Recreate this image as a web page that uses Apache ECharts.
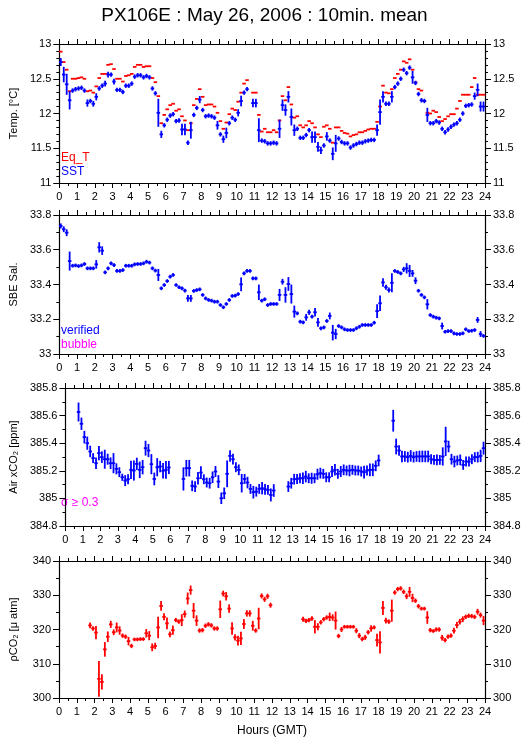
<!DOCTYPE html>
<html>
<head>
<meta charset="utf-8">
<title>PX106E 10min mean</title>
<script src="https://cdn.jsdelivr.net/npm/echarts@6/dist/echarts.min.js"></script>
<style>
  html, body { margin: 0; padding: 0; background: #fff; }
  #chart { width: 529px; height: 739px; }
</style>
</head>
<body>
<div id="chart"></div>
<script>
// 10-minute means, slot i is centred on (i + 0.5) / 6 hours GMT
var hourTicks = ['0','1','2','3','4','5','6','7','8','9','10','11','12','13','14','15','16','17','18','19','20','21','22','23','24'];

var eqT = [
  12.89,12.74,12.63,12.32,12.50,12.50,12.51,12.52,12.50,12.32,12.33,12.30,
  12.39,12.51,12.57,12.57,12.70,12.71,12.64,12.50,12.50,12.46,12.54,12.55,
  12.57,12.67,12.70,12.70,12.67,12.68,12.68,12.51,12.45,12.25,11.86,11.98,
  12.06,12.12,12.14,12.04,12.06,11.96,11.90,11.76,11.86,12.12,12.21,12.35,
  12.24,12.12,12.13,12.13,12.10,12.01,11.89,11.78,11.87,11.99,12.07,12.05,
  12.17,12.30,12.43,12.48,null,12.30,12.30,11.98,11.74,11.78,11.73,11.73,
  11.76,11.73,11.90,12.25,12.19,12.38,12.13,11.94,11.96,11.83,11.80,11.83,
  11.89,11.86,11.80,11.70,11.66,11.81,11.83,11.78,11.58,11.80,11.80,11.75,
  11.72,11.71,11.67,11.69,11.70,11.73,11.73,11.75,11.77,11.78,11.78,11.88,
  12.10,12.40,12.30,12.29,12.35,12.51,12.57,12.63,12.75,12.73,12.78,12.63,
  12.45,12.35,12.33,12.18,12.01,12.00,12.04,12.02,11.95,11.89,11.92,11.96,
  11.99,11.99,12.07,12.18,12.27,12.27,12.27,12.38,12.51,12.27,12.27,12.27
];

var sst = [
  12.74,12.56,12.42,12.19,12.33,12.35,12.36,12.37,12.33,12.15,12.18,12.14,
  12.24,12.36,12.40,12.43,12.56,12.56,12.46,12.34,12.34,12.31,12.40,12.40,
  12.43,12.53,12.55,12.55,12.52,12.54,12.52,12.36,12.29,12.01,11.70,11.83,
  11.91,11.97,11.99,11.89,11.90,11.77,11.77,11.58,11.76,11.98,12.08,12.20,
  12.05,11.96,11.97,11.96,11.94,11.83,11.70,11.63,11.72,11.86,11.94,11.91,
  12.01,12.18,12.30,12.35,null,12.15,12.15,11.76,11.61,11.60,11.57,11.57,
  11.58,11.57,11.78,12.12,12.05,12.24,11.95,11.76,11.78,11.65,11.65,11.69,
  11.76,11.66,11.66,11.52,11.47,11.54,11.67,11.61,11.42,11.57,11.64,11.59,
  11.57,11.57,11.51,11.54,11.56,11.58,11.58,11.60,11.61,11.62,11.62,11.76,
  12.02,12.24,12.14,12.14,12.24,12.38,12.43,12.50,12.63,12.58,12.66,12.52,
  12.44,12.28,12.19,12.18,11.98,11.86,11.86,11.89,11.87,11.78,11.73,11.77,
  11.81,11.84,11.86,11.91,12.00,12.11,12.12,12.13,12.25,12.34,12.10,12.10
];
var sstErr = [
  .045,.10,.14,.12,.02,.02,.02,.02,.02,.04,.02,.03,
  .04,.02,.02,.03,.03,.02,.03,.02,.02,.02,.02,.02,
  .02,.02,.02,.02,.02,.02,.02,.02,.02,.19,.04,.02,
  .02,.02,.02,.02,.02,.07,.07,.02,.11,.02,.02,.04,
  .02,.02,.02,.02,.02,.05,.02,.04,.065,.02,.02,.02,
  .04,.065,.02,.02,.02,.05,.05,.16,.02,.02,.02,.02,
  .02,.02,.12,.07,.07,.07,.11,.07,.02,.02,.02,.02,
  .02,.07,.07,.06,.04,.02,.05,.02,.08,.11,.02,.02,
  .02,.02,.02,.02,.02,.02,.02,.02,.02,.02,.02,.07,
  .17,.07,.02,.02,.07,.02,.02,.02,.02,.02,.02,.08,
  .02,.02,.02,.02,.09,.02,.02,.02,.02,.02,.02,.02,
  .02,.02,.02,.02,.02,.02,.02,.02,.04,.08,.06,.06
];

var sal = [
  33.737,33.718,33.698,33.535,33.508,33.510,33.506,33.510,33.518,33.493,33.493,33.493,
  33.516,33.614,33.595,33.470,33.493,33.522,33.512,33.478,33.478,33.483,33.508,33.508,
  33.508,33.516,33.518,33.518,33.522,33.531,33.526,33.493,33.480,33.455,33.378,33.397,
  33.420,33.445,33.455,33.397,33.384,33.378,33.365,33.320,33.320,33.363,33.368,33.372,
  33.340,33.320,33.311,33.307,33.301,33.301,33.282,33.269,33.288,33.311,33.334,33.336,
  33.345,33.401,33.464,33.478,33.478,33.435,33.435,33.355,33.307,33.315,33.282,33.288,
  33.288,33.288,33.340,33.416,33.340,33.403,33.345,33.244,33.234,33.186,33.182,33.211,
  33.240,33.215,33.240,33.182,33.148,33.153,33.190,33.219,33.123,33.115,33.161,33.153,
  33.142,33.138,33.138,33.138,33.148,33.157,33.167,33.167,33.167,33.167,33.180,33.247,
  33.292,33.412,33.384,33.368,33.410,33.478,33.472,33.464,33.487,33.493,33.478,33.464,
  33.422,33.364,33.340,33.326,33.286,33.224,33.215,33.209,33.205,33.161,33.128,33.132,
  33.132,33.119,33.115,33.115,33.119,33.142,33.132,33.134,33.138,33.196,33.115,33.104
];
var salErr = [
  .010,.012,.015,.050,.006,.006,.006,.006,.006,.006,.006,.006,
  .020,.025,.020,.006,.006,.006,.006,.006,.006,.006,.006,.006,
  .006,.006,.006,.006,.006,.006,.006,.006,.006,.030,.006,.006,
  .006,.006,.006,.006,.006,.006,.006,.015,.015,.006,.006,.006,
  .006,.006,.006,.006,.006,.006,.006,.006,.006,.006,.006,.006,
  .006,.035,.006,.006,.006,.006,.006,.040,.006,.006,.006,.006,
  .006,.006,.030,.012,.040,.035,.050,.030,.006,.006,.006,.015,
  .010,.006,.020,.020,.006,.006,.006,.015,.040,.025,.006,.006,
  .006,.006,.006,.006,.006,.006,.006,.006,.006,.006,.006,.035,
  .040,.020,.010,.010,.050,.006,.006,.006,.010,.025,.030,.015,
  .015,.006,.006,.006,.025,.006,.006,.006,.006,.015,.006,.006,
  .006,.006,.006,.006,.006,.006,.006,.006,.006,.012,.012,.006
];

var airCO2 = [
  null,null,null,null,385.626,385.541,385.444,385.400,385.340,385.292,385.255,385.328,
  385.299,385.284,385.284,385.255,385.255,385.214,385.190,385.153,385.129,385.139,385.207,385.202,
  385.250,385.207,385.226,385.364,385.347,385.248,385.141,385.226,385.231,385.200,385.207,385.224,
  null,null,null,null,385.141,385.219,385.219,385.091,385.086,385.146,385.187,385.139,
  385.115,385.110,385.153,385.195,385.122,385.001,385.037,385.178,385.308,385.284,385.226,385.207,
  385.110,385.141,385.115,385.069,385.045,385.049,385.069,385.074,385.066,385.062,385.025,385.057,
  null,null,null,null,385.086,385.110,385.139,385.141,385.146,385.146,385.158,385.146,
  385.146,385.146,385.175,385.183,385.178,385.153,385.153,385.195,385.207,385.178,385.195,385.207,
  385.202,385.202,385.207,385.202,385.202,385.195,385.190,385.202,385.207,385.207,385.236,385.275,
  null,null,null,null,385.563,385.376,385.347,385.304,385.304,385.299,385.308,385.299,
  385.304,385.304,385.304,385.304,385.304,385.284,385.279,385.279,385.279,385.304,385.413,385.376,
  385.284,385.267,385.275,385.279,385.243,385.267,385.267,385.284,385.299,385.299,385.308,385.364
];
var airErr = [
  0,0,0,0,.063,.039,.040,.042,.036,.030,.036,.046,
  .036,.063,.034,.036,.067,.034,.030,.020,.034,.030,.060,.067,
  .039,.054,.046,.048,.042,.067,.040,.060,.036,.050,.058,.042,
  0,0,0,0,.078,.054,.054,.033,.033,.039,.040,.030,
  .030,.033,.036,.034,.041,.036,.036,.091,.036,.033,.030,.033,
  .061,.030,.036,.030,.040,.030,.030,.039,.033,.030,.041,.040,
  0,0,0,0,.033,.033,.033,.030,.030,.036,.036,.030,
  .034,.030,.034,.033,.030,.030,.030,.034,.036,.030,.034,.033,
  .030,.036,.030,.030,.030,.030,.040,.030,.040,.040,.033,.036,
  0,0,0,0,.073,.051,.033,.036,.033,.033,.036,.033,
  .033,.036,.036,.036,.036,.030,.030,.033,.030,.060,.100,.036,
  .033,.036,.030,.033,.030,.030,.030,.030,.030,.033,.039,.041
];

var pCO2 = [
  null,null,null,null,null,null,null,null,null,null,321.2,320.3,
  319.1,305.6,304.7,314.2,317.9,321.5,319.2,320.6,319.7,318.2,317.9,316.6,
  315.2,317.1,317.1,317.2,317.2,318.9,318.2,314.8,315.2,320.6,326.9,323.7,
  321.8,318.6,319.8,322.75,322.3,322.75,324.5,329.05,331.5,325.5,322.6,319.7,
  319.8,321.1,321.5,321.2,320.3,320.3,325.9,330.5,329.7,326.1,320.3,317.7,
  316.75,317.4,321.6,324.7,324.7,321.1,319.7,323.2,329.8,328.8,329.7,327.1,
  null,null,null,null,null,null,null,null,null,null,323.0,322.5,
  322.75,323.2,320.8,320.8,322.1,323.0,323.5,323.7,323.5,322.6,318.1,320.0,
  320.8,320.8,320.8,320.8,319.65,318.2,317.2,317.7,319.2,320.3,320.6,316.9,
  316.25,326.3,322.6,322.3,325.5,330.8,331.8,332.0,331.0,329.7,331.0,329.2,
  328.4,326.8,326.1,326.1,323.5,319.8,319.55,320.0,320.0,317.6,316.9,317.9,
  318.2,319.65,321.3,322.3,323.0,323.7,324.0,323.9,323.7,325.2,324.2,322.6
];
var pErr = [
  0,0,0,0,0,0,0,0,0,0,.6,.4,
  1.7,5.0,2.0,1.9,1.3,.8,.6,1.2,1.0,.4,.4,1.0,
  .4,.3,.3,.3,.3,1.0,1.1,.9,.7,2.9,1.2,.8,
  1.5,.6,1.1,.4,.4,1.5,.8,1.5,1.1,2.0,1.3,.4,
  .4,.4,.4,.4,.4,.4,2.3,.6,1.0,1.0,1.6,.7,
  1.2,1.7,1.2,.7,.7,1.2,.4,2.9,.5,.5,.5,.5,
  0,0,0,0,0,0,0,0,0,0,.5,.4,
  .4,.4,1.7,.8,.4,.4,.4,1.0,.7,2.4,.4,.5,
  .3,.3,.3,.3,.5,.5,.4,.5,.4,.7,.3,1.6,
  3.0,1.8,.6,.4,3.0,.4,.4,.4,.4,.6,1.2,1.0,
  .4,.4,.3,.3,1.6,.4,.3,.4,.4,.6,.4,.4,
  .4,.6,.7,.6,.6,.4,.4,.4,.4,.6,.5,1.1
];

var RED = '#ff0000', BLUE = '#0000ff', MAGENTA = '#ff00ff';
var FONT = 'Liberation Sans, Arial, Helvetica, sans-serif';

var grids = [
  {left: 58, right: 44, top: 44, height: 139},
  {left: 58, right: 44, top: 215, height: 139},
  {left: 58, right: 44, top: 388, height: 138},
  {left: 58, right: 44, top: 561, height: 137}
];
var yRanges = [
  {min: 11, max: 13, interval: 0.5, minor: 5, name: 'Temp. [°C]'},
  {min: 33, max: 33.8, interval: 0.2, minor: 2, name: 'SBE Sal.'},
  {min: 384.8, max: 385.8, interval: 0.2, minor: 2, name: 'Air xCO₂ [ppm]'},
  {min: 300, max: 340, interval: 10, minor: 2, name: 'ρCO₂ [μ atm]'}
];

var lineBlack = {color: '#000', width: 1.2};
var xAxes = [], yAxes = [];
grids.forEach(function (g, gi) {
  ['bottom', 'top'].forEach(function (pos) {
    xAxes.push({
      gridIndex: gi, type: 'value', position: pos, min: 0, max: 24, interval: 1,
      axisLine: {onZero: false, lineStyle: lineBlack},
      axisTick: {length: 5, lineStyle: {color: '#000'}},
      minorTick: {show: true, splitNumber: 2, length: 3, lineStyle: {color: '#000'}},
      splitLine: {show: false},
      axisLabel: {show: pos === 'bottom', color: '#000', fontSize: 11, fontFamily: FONT, margin: 8,
        formatter: function (v) { return hourTicks[Math.round(v)]; }},
      name: (gi === 3 && pos === 'bottom') ? 'Hours (GMT)' : '',
      nameLocation: 'middle', nameGap: 27,
      nameTextStyle: {color: '#000', fontSize: 12, fontFamily: FONT}
    });
  });
  var r = yRanges[gi];
  ['left', 'right'].forEach(function (pos) {
    yAxes.push({
      gridIndex: gi, type: 'value', position: pos, min: r.min, max: r.max, interval: r.interval,
      axisLine: {onZero: false, lineStyle: lineBlack},
      axisTick: {length: 6, lineStyle: {color: '#000'}},
      minorTick: {show: true, splitNumber: r.minor, length: 3, lineStyle: {color: '#000'}},
      splitLine: {show: false},
      axisLabel: {color: '#000', fontSize: 11, fontFamily: FONT, margin: 8},
      name: pos === 'left' ? r.name : '',
      nameLocation: 'middle', nameRotate: 90, nameGap: 40,
      nameTextStyle: {color: '#000', fontSize: 11, fontFamily: FONT}
    });
  });
});

// one cross per 10-min mean: horizontal dash for the bin, vertical bar for the spread
function crossSeries(gi, vals, errs, color, withBar) {
  var data = [];
  vals.forEach(function (v, i) {
    if (v !== null) data.push([(i + 0.5) / 6, v, errs ? errs[i] : 0]);
  });
  return {
    type: 'custom', xAxisIndex: gi * 2, yAxisIndex: gi * 2,
    data: data, silent: true, animation: false,
    encode: {x: 0, y: 1},
    renderItem: function (params, api) {
      var t = api.value(0), v = api.value(1), e = api.value(2);
      var a = api.coord([t - 0.1, v]), b = api.coord([t + 0.1, v]);
      var kids = [{type: 'line', shape: {x1: a[0], y1: a[1], x2: b[0], y2: b[1]},
        style: {stroke: color, lineWidth: 1.8}}];
      if (withBar) {
        var p = api.coord([t, v + e]), q = api.coord([t, v - e]);
        kids.push({type: 'line', shape: {x1: p[0], y1: p[1] - 0.8, x2: q[0], y2: q[1] + 0.8},
          style: {stroke: color, lineWidth: 1.8}});
      }
      return {type: 'group', children: kids};
    }
  };
}

function legendText(text, color, x, y) {
  return {type: 'text', left: x, top: y, silent: true,
    style: {text: text, fill: color, font: '12px ' + FONT}};
}

var chart = echarts.init(document.getElementById('chart'), null, {renderer: 'canvas'});
chart.setOption({
  backgroundColor: '#fff',
  animation: false,
  title: {text: 'PX106E : May 26, 2006 : 10min. mean', left: 'center', top: 1,
    textStyle: {color: '#000', fontSize: 19, fontWeight: 'normal', fontFamily: FONT}},
  grid: grids,
  xAxis: xAxes,
  yAxis: yAxes,
  graphic: [
    legendText('Eq_T', RED, 61, 152),
    legendText('SST', BLUE, 61, 166),
    legendText('verified', BLUE, 61, 325),
    legendText('bubble', MAGENTA, 61, 339),
    legendText('σ ≥ 0.3', MAGENTA, 61, 497)
  ],
  series: [
    crossSeries(0, eqT, null, RED, false),
    crossSeries(0, sst, sstErr, BLUE, true),
    crossSeries(1, sal, salErr, BLUE, true),
    crossSeries(2, airCO2, airErr, BLUE, true),
    crossSeries(3, pCO2, pErr, RED, true)
  ]
});
</script>
</body>
</html>
